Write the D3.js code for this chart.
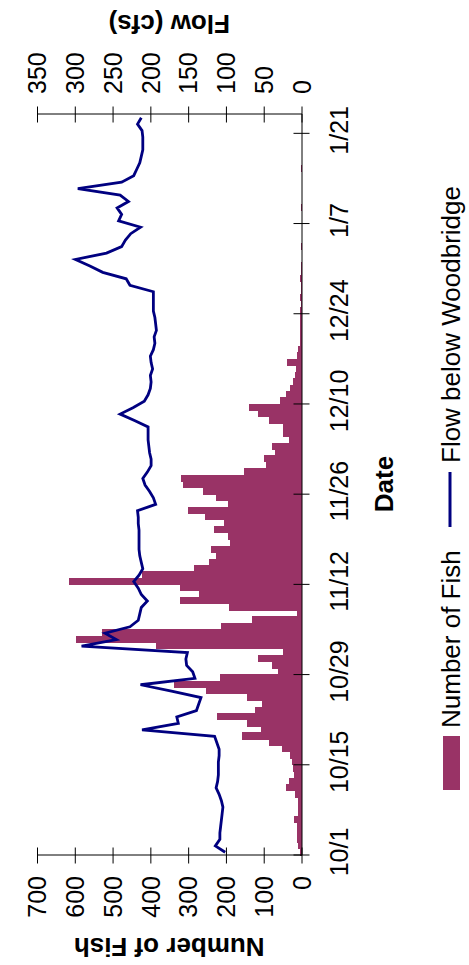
<!DOCTYPE html>
<html>
<head>
<meta charset="utf-8">
<script src="https://cdn.jsdelivr.net/npm/d3@7"></script>
<style>
  body { margin: 0; background: #fff; }
  text { font-family: "Liberation Sans", Arial, sans-serif; fill: #000; }
</style>
</head>
<body>
<div id="chart"></div>
<script>
// Daily values starting 10/1 (one entry per day)
const startDate = "2003-10-01";
const fishCounts = [
  5, 8, 12, 12, 13, 20, 10, 8, 8, 18,
  42, 33, 20, 23, 25, 30, 51, 86, 158, 107,
  144, 224, 124, 105, 144, 252, 338, 217, 61, 79,
  114, 50, 384, 598, 527, 214, 132, 11, 193, 322,
  272, 322, 615, 423, 285, 246, 225, 240, 190, 195,
  232, 206, 256, 301, 195, 227, 261, 314, 320, 153,
  95, 100, 71, 77, 32, 48, 48, 85, 114, 140,
  58, 40, 30, 23, 18, 15, 39, 13, 9, 5,
  5, 4, 4, 5, 3, 2, 3, 1, 2, 3,
  2, 1, 0, 0, 1, 0, 0, 0, 0, 0,
  1, 0, 0, 0, 0, 0, 1
];
const flowCfs = [
  101, 114, 108, 108, 107, 106, 105, 104, 106, 109,
  113, 111, 110, 110, 110, 109, 109, 112, 115, 211,
  163, 165, 139, 136, 133, 172, 213, 141, 144, 152,
  153, 151, 291, 245, 260, 227, 216, 214, 212, 204,
  212, 216, 222, 215, 210, 212, 214, 215, 215, 215,
  215, 216, 216, 217, 193, 196, 201, 207, 210, 204,
  199, 199, 201, 202, 203, 203, 203, 221, 240, 223,
  208, 203, 200, 199, 200, 197, 199, 200, 196, 194,
  195, 192, 193, 194, 196, 196, 196, 196, 227, 232,
  263, 280, 299, 258, 238, 233, 226, 213, 242, 238,
  244, 229, 240, 296, 238, 222, 218, 214, 212, 210,
  210, 210, 211, 217, 212
];
const dateTickLabels = ["10/1", "10/15", "10/29", "11/12", "11/26", "12/10", "12/24", "1/7", "1/21"];
const fishTicks = [0, 100, 200, 300, 400, 500, 600, 700];
const flowTicks = [0, 50, 100, 150, 200, 250, 300, 350];

const W = 965, H = 469;
const barColor = "#993366", lineColor = "#000080";

const day0 = new Date(startDate + "T00:00:00Z");
const dayDate = i => d3.utcDay.offset(day0, i);
const tickDate = s => {
  const [m, d] = s.split("/").map(Number);
  return new Date(Date.UTC(m >= 10 ? 2003 : 2004, m - 1, d));
};

// the chart is drawn landscape, then turned a quarter turn
const svg = d3.select("#chart").append("svg")
  .attr("width", H).attr("height", W);
const g = svg.append("g").attr("transform", `translate(0,${W}) rotate(-90)`);

const x = d3.scaleUtc().domain([day0, dayDate(115)]).range([109.5, 850.5]);
const yFish = d3.scaleLinear().domain([0, 700]).range([301.5, 37]);
const yFlow = d3.scaleLinear().domain([0, 350]).range([301.5, 37]);

// bars
g.append("g")
  .attr("shape-rendering", "crispEdges")
  .selectAll("rect")
  .data(fishCounts)
  .join("rect")
  .attr("x", (d, i) => x(dayDate(i)))
  .attr("width", (d, i) => x(dayDate(i + 1)) - x(dayDate(i)) + 0.6)
  .attr("y", d => yFish(d))
  .attr("height", d => yFish(0) - yFish(d))
  .attr("fill", barColor);

// flow line, points in the middle of each day
const line = d3.line()
  .x((d, i) => (x(dayDate(i)) + x(dayDate(i + 1))) / 2)
  .y(d => yFlow(d));
g.append("path")
  .datum(flowCfs)
  .attr("d", line)
  .attr("fill", "none")
  .attr("stroke", lineColor)
  .attr("stroke-width", 2.8)
  .attr("stroke-linejoin", "miter");

// axes
const fontSize = 25;
const dateAxis = g.append("g")
  .attr("transform", `translate(0,${yFish(0)})`)
  .call(d3.axisBottom(x)
    .tickValues(dateTickLabels.map(tickDate))
    .tickFormat((d, i) => dateTickLabels[i])
    .tickSizeOuter(0));
dateAxis.selectAll(".tick line").attr("y1", -8).attr("y2", 8).attr("stroke", "#000");
dateAxis.selectAll(".tick text")
  .attr("y", 46.5).attr("dy", 0).attr("x", 3)
  .style("font-size", fontSize + "px");

const fishAxis = g.append("g")
  .attr("transform", `translate(${x.range()[0]},0)`)
  .call(d3.axisLeft(yFish).tickValues(fishTicks).tickSizeOuter(0));
fishAxis.selectAll(".tick line").attr("x1", -8).attr("x2", 8);
fishAxis.selectAll(".tick text")
  .attr("x", -20.5).attr("dy", "0.35em")
  .style("font-size", fontSize + "px");

const flowAxis = g.append("g")
  .attr("transform", `translate(${x.range()[1]},0)`)
  .call(d3.axisRight(yFlow).tickValues(flowTicks).tickSizeOuter(0));
flowAxis.selectAll(".tick line").attr("x1", -8).attr("x2", 8);
flowAxis.selectAll(".tick text")
  .attr("x", 20.5).attr("dy", "0.35em")
  .style("font-size", fontSize + "px");

[dateAxis, fishAxis, flowAxis].forEach(a => {
  a.attr("font-family", null).attr("font-size", null);
  a.select(".domain").attr("stroke", "#000");
});

// axis titles
g.append("text")
  .attr("transform", `translate(27,${(yFish.range()[0] + yFish.range()[1]) / 2}) rotate(-90)`)
  .attr("text-anchor", "middle")
  .style("font-size", "26px").style("font-weight", "bold")
  .text("Number of Fish");
g.append("text")
  .attr("transform", `translate(950,${(yFlow.range()[0] + yFlow.range()[1]) / 2}) rotate(-90)`)
  .attr("text-anchor", "middle")
  .style("font-size", "26px").style("font-weight", "bold")
  .text("Flow (cfs)");
g.append("text")
  .attr("x", (x.range()[0] + x.range()[1]) / 2 + 1)
  .attr("y", 393)
  .attr("text-anchor", "middle")
  .style("font-size", "26px").style("font-weight", "bold")
  .text("Date");

// legend
const legend = g.append("g");
legend.append("rect")
  .attr("x", 175).attr("y", 443).attr("width", 54).attr("height", 17)
  .attr("fill", barColor);
legend.append("text")
  .attr("x", 237).attr("y", 460)
  .style("font-size", "26px")
  .text("Number of Fish");
legend.append("line")
  .attr("x1", 438).attr("x2", 493).attr("y1", 450).attr("y2", 450)
  .attr("stroke", lineColor).attr("stroke-width", 3);
legend.append("text")
  .attr("x", 502).attr("y", 460)
  .style("font-size", "26px")
  .text("Flow below Woodbridge");
</script>
</body>
</html>
